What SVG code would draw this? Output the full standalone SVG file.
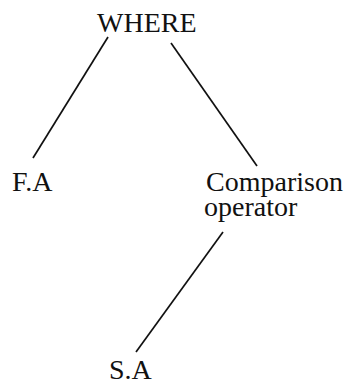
<svg xmlns="http://www.w3.org/2000/svg" width="356" height="385" viewBox="0 0 356 385">
<style>
text{font-family:'Liberation Serif','Times New Roman',Times,serif;font-size:28px;fill:#111}
.e{stroke:#111;stroke-width:1.7;fill:none}
</style>
<rect width="356" height="385" fill="#fff"/>
<g id="connectors">
<line class="e" x1="108" y1="37" x2="33" y2="158"/>
<line class="e" x1="171" y1="43" x2="257" y2="166"/>
<line class="e" x1="223" y1="232" x2="136" y2="352"/>
</g>
<g id="where"><text x="97" y="32">WHERE</text></g>
<g id="fa"><text x="12" y="191">F.A</text></g>
<g id="comparison"><text x="206" y="191">Comparison</text><text x="204" y="216">operator</text></g>
<g id="sa"><text x="109" y="379">S.A</text></g>
</svg>
